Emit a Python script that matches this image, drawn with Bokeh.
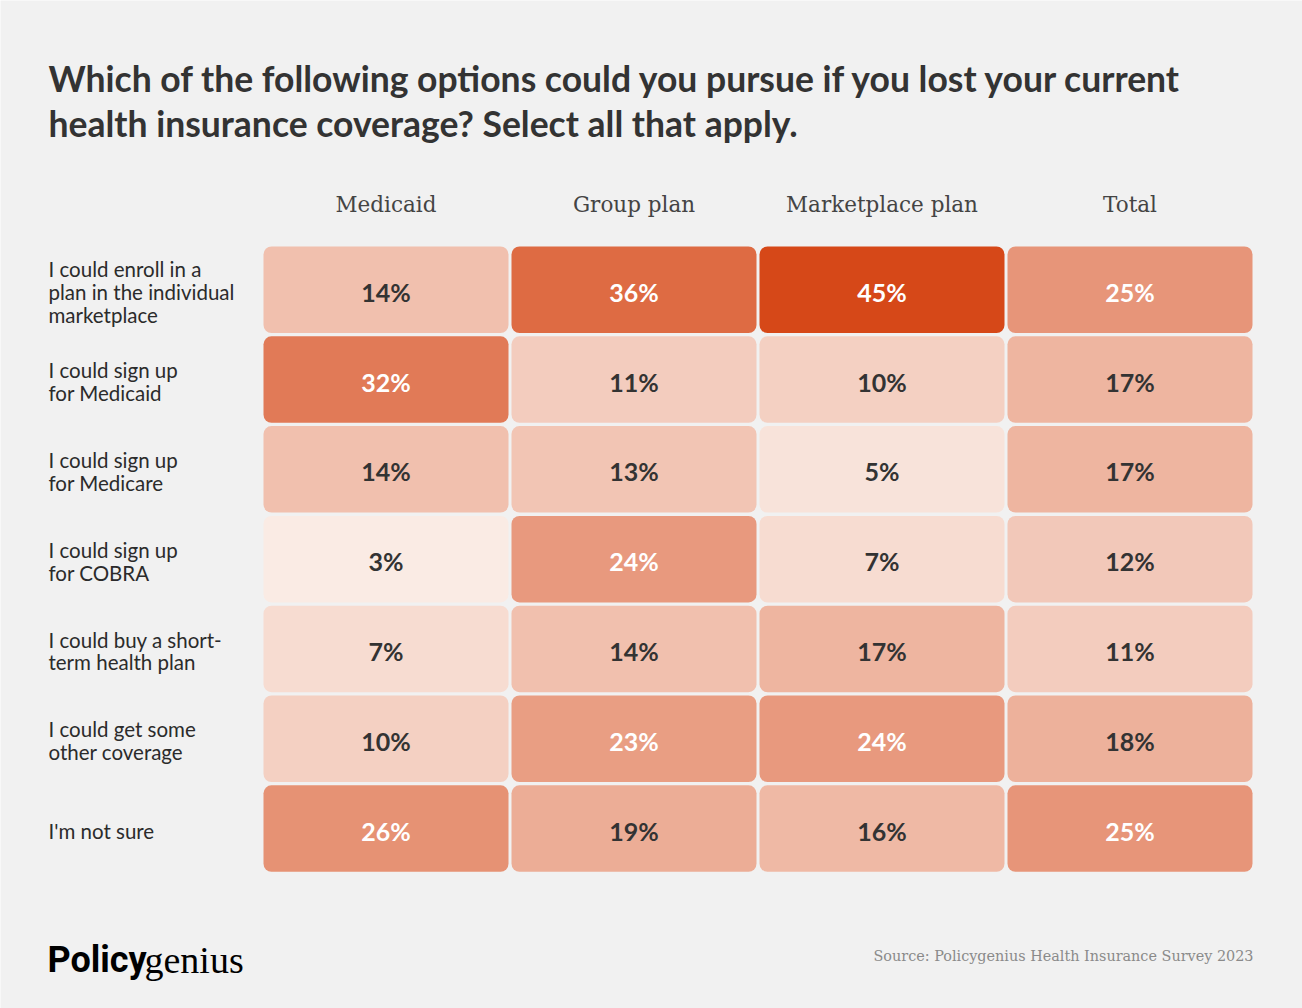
from bokeh.plotting import figure
from bokeh.models import Range1d, ColumnDataSource
from bokeh.transform import linear_cmap
from bokeh.core.properties import value
from bokeh.embed import file_html
from bokeh.resources import INLINE

# ---------------- data ----------------
columns = ["Medicaid", "Group plan", "Marketplace plan", "Total"]
row_labels = [
    "I could enroll in a\nplan in the individual\nmarketplace",
    "I could sign up\nfor Medicaid",
    "I could sign up\nfor Medicare",
    "I could sign up\nfor COBRA",
    "I could buy a short-\nterm health plan",
    "I could get some\nother coverage",
    "I'm not sure",
]
medicaid = [14, 32, 14, 3, 7, 10, 26]
group_plan = [36, 11, 13, 24, 14, 23, 19]
marketplace_plan = [45, 10, 5, 7, 17, 24, 16]
total = [25, 17, 17, 12, 11, 18, 25]
series = [medicaid, group_plan, marketplace_plan, total]

title_lines = [
    "Which of the following options could you pursue if you lost your current",
    "health insurance coverage? Select all that apply.",
]
source_text = "Source: Policygenius Health Insurance Survey 2023"

# ---------------- style / layout ----------------
BG = "#F1F1F1"
DARK = "#333333"
W, H = 1302, 1008
col_left0, col_pitch, cell_w = 263.0, 248.0, 245.0
row_top0, row_pitch, cell_h = 246.0, 89.8, 86.5

lo_rgb = (250, 235, 228)
hi_rgb = (214, 72, 24)
palette = []
for k in range(256):
    t = k / 255
    r, g, b = (round(lo + (hi - lo) * t) for lo, hi in zip(lo_rgb, hi_rgb))
    palette.append(f"#{r:02x}{g:02x}{b:02x}")

p = figure(width=W, height=H, x_range=Range1d(0, W), y_range=Range1d(H, 0),
           output_backend="svg", toolbar_location=None, min_border=0)
p.axis.visible = False
p.grid.visible = False
p.outline_line_color = None
p.background_fill_color = BG
p.border_fill_color = BG

# cells
cells = dict(left=[], right=[], top=[], bottom=[], x=[], y=[], val=[], label=[], tcol=[])
for i, vals in enumerate(series):
    for j, v in enumerate(vals):
        l = col_left0 + i * col_pitch
        t = row_top0 + j * row_pitch
        cells["left"].append(l)
        cells["right"].append(l + cell_w)
        cells["top"].append(t)
        cells["bottom"].append(t + cell_h)
        cells["x"].append(l + cell_w / 2)
        cells["y"].append(t + cell_h / 2 + 2)
        cells["val"].append(v)
        cells["label"].append(f"{v}%")
        cells["tcol"].append("#FFFFFF" if v >= 20 else DARK)
src = ColumnDataSource(cells)
p.quad(left="left", right="right", top="top", bottom="bottom", source=src,
       fill_color=linear_cmap("val", palette, low=3, high=45), line_color=None,
       border_radius=8)
p.text(x="x", y="y", text="label", source=src, text_color="tcol",
       text_font=value("Lato"), text_font_style="bold", text_font_size="25px",
       text_align="center", text_baseline="middle")

# column headers
p.text(x=[col_left0 + i * col_pitch + cell_w / 2 for i in range(len(columns))],
       y=[204] * len(columns), text=columns, text_color="#444444",
       text_font=value("DejaVu Serif"), text_font_size="21.5px",
       text_align="center", text_baseline="middle")

# row labels
p.text(x=[48] * len(row_labels),
       y=[row_top0 + j * row_pitch + cell_h / 2 + 2 for j in range(len(row_labels))],
       text=row_labels, text_color="#2B2B2B", text_font=value("Lato"),
       text_font_size="20.5px", text_line_height=0.95,
       text_align="left", text_baseline="middle")

# title
p.text(x=[48, 48], y=[78, 123], text=title_lines, text_color=DARK,
       text_font=value("Lato"), text_font_style="bold", text_font_size="35.5px",
       text_align="left", text_baseline="middle")

# logo
p.text(x=[47], y=[959], text=["Policy"], text_color="#000000",
       text_font=value("Roboto"), text_font_style="bold", text_font_size="36px",
       text_align="left", text_baseline="alphabetic")
p.text(x=[144], y=[959], text=["genius"], text_color="#000000",
       text_font=value("Liberation Serif"), text_font_size="38px",
       text_align="left", text_baseline="alphabetic")

# source
p.text(x=[1253], y=[955], text=[source_text], text_color="#8A8A8A",
       text_font=value("DejaVu Serif"), text_font_size="14.4px",
       text_align="right", text_baseline="middle")

open("out.html", "w").write(file_html(p, INLINE))
